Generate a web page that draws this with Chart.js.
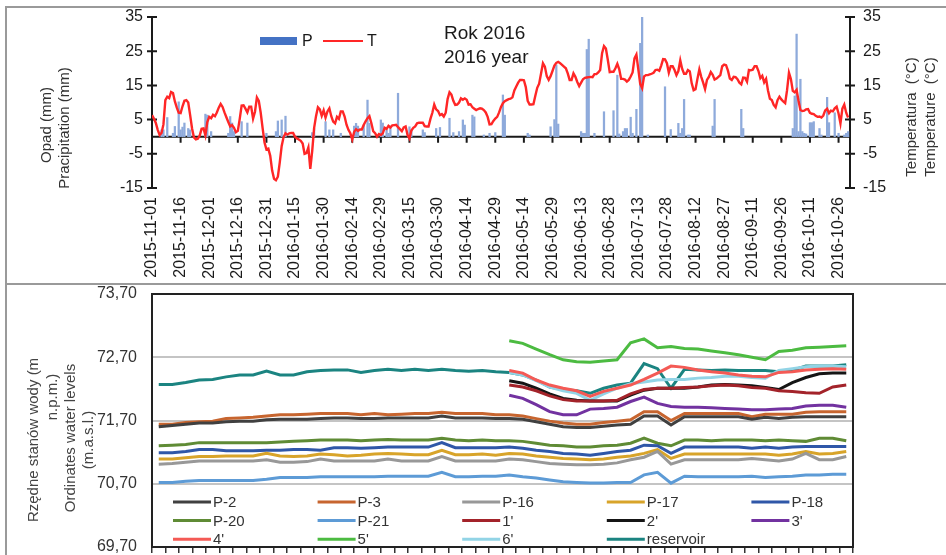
<!DOCTYPE html>
<html lang="pl">
<head>
<meta charset="UTF-8">
<title>Rok 2016</title>
<script src="https://cdn.jsdelivr.net/npm/chart.js"></script>
<style>
  body { margin: 0; background: #fff; }
  .page { position: relative; width: 946px; height: 555px; overflow: hidden; }
  .rule { position: absolute; left: 6px; width: 940px; height: 0; border-top: 2px solid #9a9a9a; }
  .side { position: absolute; left: 5px; top: 6px; width: 0; height: 549px; border-left: 2px solid #9a9a9a; }
  canvas { position: absolute; left: 0; }
</style>
</head>
<body>
<div class="page">
  <div class="rule" style="top:6px"></div>
  <div class="side"></div>
  <canvas id="weather" width="946" height="282" style="top:0"></canvas>
  <div class="rule" style="top:283px"></div>
  <canvas id="levels" width="946" height="270" style="top:285px"></canvas>
</div>

<script>
const FONT = "'Liberation Sans', Arial, sans-serif";

// ---- top panel: daily data 2015-11-01 .. 2016-10-31 (day 0 = 2015-11-01)
const dateTicks = ['2015-11-01', '2015-11-16', '2015-12-01', '2015-12-16', '2015-12-31',
  '2016-01-15', '2016-01-30', '2016-02-14', '2016-02-29', '2016-03-15', '2016-03-30',
  '2016-04-14', '2016-04-29', '2016-05-14', '2016-05-29', '2016-06-13', '2016-06-28',
  '2016-07-13', '2016-07-28', '2016-08-12', '2016-08-27', '2016-09-11', '2016-09-26',
  '2016-10-11', '2016-10-26'];

// daily mean temperature, °C
const tempC = [
  6.3, 5.3, 4.0, 2.0, 0.5, 1.1, 3.6, 10.7, 11.7, 11.3,
  13.1, 12.8, 10.3, 8.5, 7.0, 6.9, 8.9, 10.5, 10.7, 10.0,
  6.3, 2.4, -0.2, -0.8, -0.6, 0.3, 2.3, 2.4, 0.4, 4.3,
  5.8, 5.4, 6.4, 6.0, 7.1, 8.5, 9.6, 8.7, 7.1, 5.7,
  4.3, 3.0, 3.4, 2.6, 1.3, 1.7, 5.2, 9.1, 9.2, 8.2,
  7.1, 8.8, 8.8, 5.3, 7.3, 11.5, 10.5, 7.0, 2.5, -1.7,
  -3.7, -3.5, -5.6, -9.9, -12.3, -12.7, -11.7, -7.5, -2.7, -0.1,
  1.0, 0.6, 1.0, 1.1, 1.1, 0.0, -0.5, -0.8, -1.2, -2.0,
  -5.0, -4.8, -3.1, -9.4, -4.2, 2.5, 6.0, 8.6, 8.0, 6.1,
  7.7, 5.6, 7.4, 8.3, 6.0, 4.4, 3.9, 5.8, 5.2, 7.4,
  7.4, 5.9, 3.5, 2.0, 1.0, -0.8, 1.4, 2.2, 1.7, 2.1,
  2.1, 3.4, 4.5, 5.4, 6.0, 4.0, 1.6, 1.0, 0.0, 0.8,
  0.5, 1.0, 2.6, 2.3, 3.2, 2.7, 3.3, 3.4, 3.5, 2.8,
  2.2, 1.6, 2.7, 3.0, 0.5, -0.5, 1.8, 2.6, 3.0, 3.9,
  4.1, 4.1, 4.1, 3.1, 3.0, 3.0, 5.2, 7.0, 9.4, 8.0,
  7.5, 6.3, 6.6, 5.9, 7.0, 11.0, 13.0, 12.3, 10.5, 9.3,
  9.4, 10.0, 11.2, 10.8, 11.2, 10.8, 9.4, 9.5, 8.6, 8.2,
  7.8, 8.1, 8.3, 8.2, 7.8, 7.1, 5.8, 3.6, 3.7, 4.6,
  5.3, 5.8, 7.1, 8.7, 9.8, 10.4, 10.7, 11.0, 11.1, 11.5,
  13.5, 14.7, 15.8, 16.6, 16.6, 16.5, 14.5, 10.5, 9.4, 9.4,
  9.5, 12.0, 14.3, 15.5, 18.5, 21.5, 20.5, 17.7, 16.6, 17.7,
  19.2, 20.8, 21.6, 21.9, 21.5, 21.0, 20.5, 20.0, 18.5, 16.6,
  16.6, 18.5, 17.5, 16.0, 14.8, 15.8, 16.8, 17.2, 17.3, 17.4,
  17.5, 17.4, 18.3, 18.3, 18.8, 19.5, 24.4, 26.5, 25.8, 22.5,
  18.9, 19.0, 19.0, 20.0, 21.3, 19.7, 16.9, 16.9, 16.7, 16.1,
  16.6, 17.6, 18.8, 22.9, 24.0, 19.7, 15.4, 14.2, 17.6, 18.0,
  18.0, 18.2, 18.4, 18.7, 19.5, 19.6, 19.3, 20.8, 22.7, 22.6,
  21.5, 18.7, 20.6, 20.6, 19.5, 18.0, 19.2, 22.3, 19.8, 18.4,
  18.4, 19.5, 19.1, 15.6, 13.6, 13.9, 16.9, 19.7, 17.5, 15.8,
  13.9, 16.6, 17.5, 18.9, 18.1, 16.7, 17.0, 17.5, 18.0, 20.6,
  21.1, 20.9, 19.3, 17.0, 16.6, 17.5, 17.4, 16.8, 15.8, 15.3,
  17.3, 17.2, 16.1, 19.5, 19.4, 19.6, 20.6, 20.6, 19.2, 17.1,
  17.8, 15.9, 16.9, 13.5, 11.1, 10.7, 9.3, 8.6, 10.7, 11.7,
  10.9, 10.3, 9.8, 13.6, 18.7, 16.9, 13.4, 13.0, 13.7, 10.5,
  7.8, 7.5, 7.6, 8.0, 8.1, 7.0, 6.7, 6.6, 6.1, 5.8,
  5.9, 5.6, 6.2, 7.7, 8.2, 6.9, 7.6, 7.4, 8.3, 8.8,
  6.8, 3.9, 8.2, 9.4, 7.0, 5.6
];

// days with precipitation and the amount, mm
const rainDay = [5, 6, 8, 11, 12, 14, 15, 16, 17, 19, 20, 28, 29, 31, 40, 41, 42, 43, 47, 50,
  60, 65, 66, 68, 70, 84, 85, 91, 93, 95, 99, 106, 107, 108, 111, 113, 114, 120, 121, 123,
  124, 125, 129, 135, 136, 142, 143, 149, 151, 156, 158, 161, 163, 164, 168, 169, 174, 177, 180, 184,
  185, 197, 198, 209, 211, 212, 213, 225, 226, 227, 228, 229, 232, 237, 242, 244, 245, 247, 248, 249,
  251, 252, 254, 256, 257, 260, 269, 272, 276, 277, 278, 279, 281, 282, 294, 295, 309, 310, 336, 337,
  338, 339, 340, 341, 342, 343, 345, 346, 347, 350, 351, 354, 355, 358, 360, 363, 364, 365];
const rainMm = [2.0, 2.0, 5.6, 1.0, 3.0, 10.2, 2.0, 2.8, 4.0, 2.4, 2.0, 6.6, 6.3, 1.5, 1.0, 5.9, 4.0, 1.5, 4.4, 4.0,
  1.0, 1.5, 4.6, 4.9, 6.0, 1.2, 2.4, 4.4, 2.0, 2.0, 1.0, 3.1, 3.9, 3.1, 3.4, 10.7, 3.9, 4.9, 4.0, 2.0,
  1.0, 2.7, 12.7, 2.9, 2.0, 2.0, 1.2, 2.4, 2.7, 5.4, 1.2, 1.5, 4.9, 3.4, 6.3, 5.8, 0.5, 1.0, 1.2, 12.2,
  6.3, 1.0, 0.5, 2.9, 5.0, 21.0, 3.7, 1.5, 1.0, 1.0, 25.5, 28.5, 1.0, 7.3, 7.6, 18.0, 0.8, 1.5, 2.4, 2.4,
  5.7, 1.0, 8.0, 27.3, 35.0, 0.5, 14.6, 2.1, 3.9, 1.0, 2.4, 10.9, 0.5, 0.5, 3.1, 10.9, 8.0, 2.4, 2.4, 11.9,
  30.0, 1.5, 16.8, 1.5, 1.0, 0.8, 4.1, 4.1, 4.4, 2.4, 0.5, 11.5, 4.1, 7.0, 1.0, 0.5, 1.0, 1.5];

// ---- bottom panel: weekly water levels, m a.s.l. (52 weeks)
const weeks = Array.from({ length: 52 }, (_, i) => 'week ' + (i + 1));

const p2 = [71.60, 71.62, 71.64, 71.66, 71.66, 71.68, 71.69, 71.69, 71.71, 71.72, 71.72, 71.72, 71.73,
  71.74, 71.74, 71.73, 71.73, 71.74, 71.74, 71.74, 71.74, 71.77, 71.74, 71.74, 71.74, 71.73,
  71.73, 71.72, 71.68, 71.64, 71.60, 71.59, 71.59, 71.61, 71.63, 71.64, 71.77, 71.77, 71.63,
  71.76, 71.76, 71.76, 71.76, 71.76, 71.72, 71.75, 71.73, 71.75, 71.76, 71.76, 71.76, 71.76];
const p3 = [71.64, 71.64, 71.67, 71.68, 71.69, 71.73, 71.74, 71.75, 71.77, 71.79, 71.79, 71.80, 71.81,
  71.81, 71.81, 71.79, 71.81, 71.79, 71.80, 71.81, 71.81, 71.83, 71.81, 71.81, 71.81, 71.79,
  71.79, 71.77, 71.73, 71.69, 71.66, 71.64, 71.64, 71.67, 71.69, 71.71, 71.84, 71.84, 71.70,
  71.81, 71.81, 71.81, 71.81, 71.81, 71.76, 71.80, 71.80, 71.80, 71.83, 71.84, 71.84, 71.84];
const p16 = [71.01, 71.02, 71.04, 71.06, 71.06, 71.06, 71.06, 71.06, 71.08, 71.04, 71.04, 71.05, 71.09,
  71.06, 71.06, 71.06, 71.06, 71.09, 71.06, 71.06, 71.06, 71.13, 71.06, 71.06, 71.06, 71.06,
  71.09, 71.08, 71.05, 71.02, 71.01, 71.00, 71.00, 71.01, 71.03, 71.08, 71.12, 71.21, 71.01,
  71.08, 71.08, 71.08, 71.08, 71.08, 71.10, 71.08, 71.06, 71.09, 71.18, 71.08, 71.08, 71.13];
const p17 = [71.09, 71.09, 71.11, 71.13, 71.13, 71.14, 71.14, 71.14, 71.18, 71.14, 71.13, 71.14, 71.17,
  71.16, 71.14, 71.15, 71.17, 71.18, 71.17, 71.16, 71.16, 71.23, 71.16, 71.16, 71.17, 71.15,
  71.18, 71.17, 71.14, 71.12, 71.10, 71.09, 71.08, 71.09, 71.12, 71.14, 71.18, 71.24, 71.10,
  71.17, 71.17, 71.17, 71.17, 71.17, 71.17, 71.17, 71.15, 71.17, 71.21, 71.17, 71.18, 71.21];
const p18 = [71.19, 71.19, 71.21, 71.24, 71.24, 71.22, 71.22, 71.22, 71.23, 71.23, 71.24, 71.24, 71.23,
  71.27, 71.27, 71.26, 71.27, 71.28, 71.28, 71.28, 71.28, 71.35, 71.27, 71.27, 71.27, 71.27,
  71.28, 71.26, 71.23, 71.21, 71.18, 71.17, 71.15, 71.18, 71.21, 71.23, 71.31, 71.30, 71.18,
  71.28, 71.28, 71.28, 71.28, 71.28, 71.26, 71.28, 71.26, 71.28, 71.29, 71.29, 71.29, 71.29];
const p20 = [71.30, 71.31, 71.32, 71.35, 71.35, 71.35, 71.35, 71.35, 71.35, 71.36, 71.37, 71.38, 71.39,
  71.39, 71.39, 71.38, 71.39, 71.40, 71.39, 71.39, 71.39, 71.42, 71.39, 71.38, 71.39, 71.38,
  71.38, 71.37, 71.34, 71.31, 71.30, 71.28, 71.28, 71.30, 71.31, 71.34, 71.42, 71.34, 71.30,
  71.39, 71.39, 71.38, 71.39, 71.39, 71.39, 71.38, 71.39, 71.38, 71.37, 71.42, 71.42, 71.38];
const p21 = [70.72, 70.72, 70.74, 70.75, 70.75, 70.75, 70.75, 70.75, 70.77, 70.80, 70.80, 70.80, 70.81,
  70.81, 70.81, 70.81, 70.81, 70.82, 70.82, 70.82, 70.82, 70.88, 70.81, 70.81, 70.82, 70.82,
  70.84, 70.81, 70.79, 70.76, 70.73, 70.72, 70.71, 70.71, 70.72, 70.72, 70.84, 70.88, 70.71,
  70.82, 70.81, 70.81, 70.81, 70.81, 70.82, 70.80, 70.81, 70.82, 70.84, 70.84, 70.85, 70.85];
const reservoir = [72.27, 72.27, 72.30, 72.34, 72.35, 72.39, 72.42, 72.42, 72.48, 72.42, 72.42, 72.47, 72.49,
  72.50, 72.50, 72.46, 72.49, 72.51, 72.49, 72.51, 72.49, 72.51, 72.49, 72.48, 72.49, 72.47,
  72.46, 72.42, 72.34, 72.23, 72.19, 72.17, 72.13, 72.21, 72.26, 72.29, 72.60, 72.52, 72.21,
  72.51, 72.50, 72.49, 72.50, 72.49, 72.49, 72.49, 72.47, 72.49, 72.56, 72.56, 72.56, 72.58];

// wells 1'..6' were measured only from week 27 on
const w1 = [72.26, 72.23, 72.17, 72.09, 72.03, 72.01, 72.01, 72.01, 72.02, 72.12, 72.19, 72.21, 72.21,
  72.22, 72.23, 72.25, 72.26, 72.25, 72.22, 72.21, 72.17, 72.16, 72.14, 72.13, 72.23, 72.26];
const w2 = [72.33, 72.29, 72.21, 72.12, 72.05, 72.02, 72.01, 72.01, 72.01, 72.10, 72.18, 72.21, 72.21,
  72.21, 72.23, 72.26, 72.27, 72.26, 72.25, 72.22, 72.19, 72.30, 72.38, 72.44, 72.45, 72.45];
const w3 = [72.10, 72.05, 71.95, 71.84, 71.79, 71.79, 71.88, 71.89, 71.91, 72.00, 72.07, 71.97, 71.92,
  71.91, 71.91, 71.90, 71.89, 71.88, 71.87, 71.87, 71.88, 71.89, 71.93, 71.94, 71.94, 71.91];
const w4 = [72.49, 72.45, 72.34, 72.26, 72.21, 72.17, 72.08, 72.16, 72.21, 72.26, 72.35, 72.45, 72.56,
  72.54, 72.50, 72.47, 72.45, 72.42, 72.40, 72.39, 72.46, 72.47, 72.50, 72.51, 72.52, 72.51];
const w5 = [72.96, 72.92, 72.83, 72.74, 72.66, 72.63, 72.62, 72.64, 72.66, 72.93, 72.99, 72.85, 72.87,
  72.84, 72.83, 72.80, 72.77, 72.74, 72.70, 72.66, 72.79, 72.81, 72.85, 72.86, 72.87, 72.88];
const w6 = [72.46, 72.42, 72.33, 72.23, 72.17, 72.13, 72.02, 72.12, 72.21, 72.28, 72.31, 72.34, 72.35,
  72.35, 72.37, 72.38, 72.40, 72.40, 72.38, 72.37, 72.49, 72.52, 72.55, 72.56, 72.56, 72.55];

const late = vals => Array(weeks.length - vals.length).fill(null).concat(vals);

function vtext(ctx, str, x, y, font, color) {
  ctx.save();
  ctx.translate(x, y);
  ctx.rotate(-Math.PI / 2);
  ctx.font = font;
  ctx.fillStyle = color;
  ctx.textAlign = 'center';
  ctx.textBaseline = 'middle';
  ctx.fillText(str, 0, 0);
  ctx.restore();
}

// fixed box sizes so both plot areas sit where the reference has them
const fixW = w => s => { s.width = w; s.paddingTop = 0; s.paddingBottom = 0; };
const fixH = h => s => { s.height = h; s.paddingLeft = 0; s.paddingRight = 0; };

// axes through zero, crossing tick marks, titles and legend of the top panel
const weatherFrame = {
  id: 'weatherFrame',
  beforeDatasetsDraw(chart) {
    const { ctx, chartArea: a, scales: { x, yP } } = chart;
    const y0 = yP.getPixelForValue(0);
    ctx.save();
    ctx.strokeStyle = '#1a1a1a';
    ctx.lineWidth = 2;
    ctx.beginPath();
    ctx.moveTo(a.left, a.top); ctx.lineTo(a.left, a.bottom);
    ctx.moveTo(a.right, a.top); ctx.lineTo(a.right, a.bottom);
    ctx.moveTo(a.left, y0); ctx.lineTo(a.right, y0);
    yP.ticks.forEach(t => {
      const y = yP.getPixelForValue(t.value);
      ctx.moveTo(a.left - 5, y); ctx.lineTo(a.left + 5, y);
      ctx.moveTo(a.right - 5, y); ctx.lineTo(a.right + 5, y);
    });
    x.ticks.forEach(t => {
      const px = x.getPixelForValue(t.value);
      ctx.moveTo(px, y0); ctx.lineTo(px, y0 + 6);
    });
    ctx.stroke();
    ctx.restore();
  },
  afterDraw(chart) {
    const ctx = chart.ctx;
    const f15 = '15px ' + FONT;
    vtext(ctx, 'Opad (mm)', 47, 125, f15, '#333');
    vtext(ctx, 'Pracipitation (mm)', 65, 128, f15, '#333');
    vtext(ctx, 'Temperatura  (°C)', 912, 117, f15, '#333');
    vtext(ctx, 'Temperature  (°C)', 931, 117, f15, '#333');

    const [tSet, pSet] = chart.data.datasets;
    ctx.save();
    ctx.font = '16px ' + FONT;
    ctx.textBaseline = 'middle';
    ctx.fillStyle = '#4472c4';
    ctx.fillRect(260, 37, 37, 8);
    ctx.fillStyle = '#1a1a1a';
    ctx.fillText(pSet.label, 302, 42);
    ctx.strokeStyle = tSet.borderColor;
    ctx.lineWidth = 2;
    ctx.beginPath(); ctx.moveTo(323, 41); ctx.lineTo(363, 41); ctx.stroke();
    ctx.fillText(tSet.label, 367, 42);

    ctx.font = '19px ' + FONT;
    ctx.fillText('Rok 2016', 444, 34);
    ctx.fillText('2016 year', 444, 58);
    ctx.restore();
  }
};

new Chart(document.getElementById('weather'), {
  type: 'bar',
  data: {
    datasets: [
      {
        type: 'line',
        label: 'T',
        data: tempC.map((t, d) => ({ x: d, y: t })),
        borderColor: '#ff2626',
        borderWidth: 2.4,
        pointRadius: 0,
        tension: 0,
        yAxisID: 'yT',
        order: 0
      },
      {
        label: 'P',
        data: rainDay.map((d, i) => ({ x: d, y: rainMm[i] })),
        backgroundColor: '#8eaadb',
        barThickness: 1.6,
        yAxisID: 'yP',
        order: 1
      }
    ]
  },
  options: {
    responsive: false,
    animation: false,
    layout: { padding: { top: 17 } },
    plugins: { legend: { display: false }, tooltip: { enabled: false } },
    scales: {
      x: {
        type: 'linear',
        min: 0,
        max: 366,
        offset: false,
        ticks: {
          stepSize: 15,
          includeBounds: false,
          autoSkip: false,
          minRotation: 90,
          maxRotation: 90,
          padding: 9,
          color: '#1a1a1a',
          font: { family: FONT, size: 16 },
          callback: v => (v % 15 === 0 ? dateTicks[v / 15] : '')
        },
        grid: { display: false, drawTicks: false },
        border: { display: false },
        afterFit: fixH(94)
      },
      yP: {
        position: 'left',
        min: -15,
        max: 35,
        ticks: { stepSize: 10, padding: 9, color: '#1a1a1a', font: { family: FONT, size: 16 } },
        grid: { display: false, drawTicks: false },
        border: { display: false },
        afterFit: fixW(152)
      },
      yT: {
        position: 'right',
        min: -15,
        max: 35,
        ticks: { stepSize: 10, padding: 13, color: '#1a1a1a', font: { family: FONT, size: 16 } },
        grid: { display: false, drawTicks: false },
        border: { display: false },
        afterFit: fixW(96)
      }
    }
  },
  plugins: [weatherFrame]
});

// frame, inner legend and axis title of the bottom panel
const levelsFrame = {
  id: 'levelsFrame',
  afterDatasetsDraw(chart) {
    const { ctx, chartArea: a } = chart;
    ctx.save();
    ctx.strokeStyle = '#222';
    ctx.lineWidth = 2;
    ctx.strokeRect(a.left, a.top, a.right - a.left, a.bottom - a.top);

    ctx.font = '15px ' + FONT;
    ctx.textBaseline = 'middle';
    ctx.lineWidth = 3;
    chart.data.datasets.forEach((ds, i) => {
      const col = i % 5, row = Math.floor(i / 5);
      const x = a.left + 21 + col * 144.6;
      const y = a.bottom - 45 + row * 18.6;
      ctx.strokeStyle = ds.borderColor;
      ctx.beginPath(); ctx.moveTo(x, y); ctx.lineTo(x + 38, y); ctx.stroke();
      ctx.fillStyle = '#333';
      ctx.fillText(ds.label, x + 40, y + 1);
    });
    ctx.restore();
  },
  afterDraw(chart) {
    const ctx = chart.ctx;
    const f15 = '15px ' + FONT;
    vtext(ctx, 'Rzędne stanów wody (m', 34, 155, f15, '#444');
    vtext(ctx, 'n.p.m.)', 53, 112, f15, '#444');
    vtext(ctx, 'Ordinates water levels', 71, 153, f15, '#444');
    vtext(ctx, '(m.a.s.l.)', 89, 155, f15, '#444');
  }
};

const line = (label, data, color) => ({
  label, data, borderColor: color, backgroundColor: color,
  borderWidth: 3, pointRadius: 0, tension: 0, spanGaps: false
});

new Chart(document.getElementById('levels'), {
  type: 'line',
  data: {
    labels: weeks,
    datasets: [
      line('P-2', p2, '#404040'),
      line('P-3', p3, '#c7652f'),
      line('P-16', p16, '#989898'),
      line('P-17', p17, '#d8a42a'),
      line('P-18', p18, '#2f57a8'),
      line('P-20', p20, '#5f8b35'),
      line('P-21', p21, '#5d9bd6'),
      line("1'", late(w1), '#a3232a'),
      line("2'", late(w2), '#151515'),
      line("3'", late(w3), '#7232a0'),
      line("4'", late(w4), '#f45a55'),
      line("5'", late(w5), '#4cbb41'),
      line("6'", late(w6), '#92d4e6'),
      line('reservoir', reservoir, '#1b8481')
    ]
  },
  options: {
    responsive: false,
    animation: false,
    layout: { padding: { top: 9, right: 93 } },
    plugins: { legend: { display: false }, tooltip: { enabled: false } },
    scales: {
      x: {
        offset: true,
        ticks: { display: false },
        grid: { offset: true, drawOnChartArea: false, drawTicks: true, tickLength: 6, color: '#333', lineWidth: 1.5 },
        border: { display: false },
        afterFit: fixH(8)
      },
      y: {
        min: 69.7,
        max: 73.7,
        ticks: {
          stepSize: 1,
          padding: 15,
          color: '#333',
          font: { family: FONT, size: 16 },
          callback: v => v.toFixed(2).replace('.', ',')
        },
        grid: { color: '#c4c4c4', lineWidth: 2, drawTicks: false },
        border: { display: false },
        afterFit: fixW(152)
      }
    }
  },
  plugins: [levelsFrame]
});
</script>
</body>
</html>
